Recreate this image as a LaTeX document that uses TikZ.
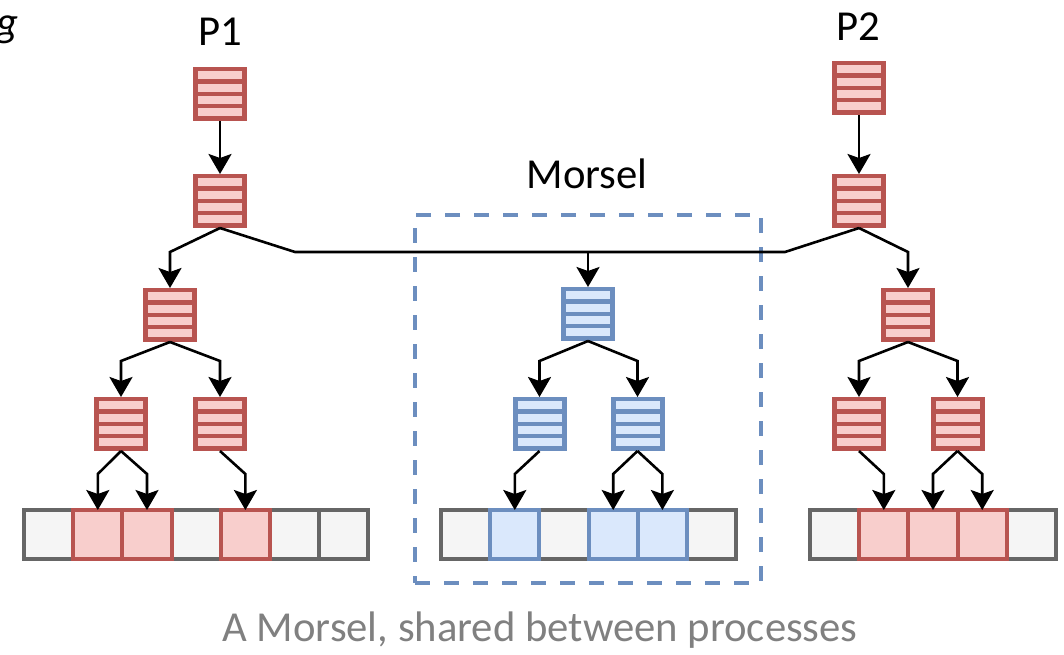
\documentclass[tikz,border=0pt]{standalone}
\usepackage{fontspec}
\setmainfont{Carlito}
\usetikzlibrary{arrows.meta,positioning}

\definecolor{redline}{HTML}{B85450}
\definecolor{redfill}{HTML}{F8CECC}
\definecolor{blueline}{HTML}{6C8EBF}
\definecolor{bluefill}{HTML}{DAE8FC}
\definecolor{cellline}{HTML}{666666}
\definecolor{cellfill}{HTML}{F5F5F5}
\definecolor{captgray}{HTML}{808080}

\tikzset{
  queue/.style 2 args={fill=#1, minimum size=54pt, inner sep=0pt, outer sep=0pt,
    path picture={
      \foreach \k in {0,...,3}
        \fill[#2] ([xshift=5pt,yshift={-(4.3+12.3*\k)*1pt}]path picture bounding box.north west)
          rectangle ++(44pt,-8pt);
    }},
  redq/.style={queue={redline}{redfill}},
  blueq/.style={queue={blueline}{bluefill}},
  cell/.style={draw=cellline, fill=cellfill, line width=4pt, minimum width=49.2pt,
    minimum height=49pt, inner sep=0pt, outer sep=0pt},
  redcell/.style={cell, draw=redline, fill=redfill},
  bluecell/.style={cell, draw=blueline, fill=bluefill},
  arr/.style={-{Stealth[length=20pt,width=23pt,inset=4pt]}, line width=2.6pt},
  link/.style={line width=2.6pt},
  lbl/.style={font=\fontsize{42.7}{50}\selectfont, inner sep=0pt, anchor=base},
}

\begin{document}
\begin{tikzpicture}[x=1pt, y=-1pt]
  \useasboundingbox (0,0) rectangle (1064,654);

  \node[lbl, anchor=base east, font=\fontsize{42.7}{50}\selectfont\itshape] (cut) at (19,36) {g};
  \node[lbl] (p1name) at (220,45) {P1};
  \node[lbl] (p2name) at (858,40) {P2};
  \node[lbl] (mname) at (587,188) {Morsel};
  \node[lbl, text=captgray] (cap) at (540,641) {A Morsel, shared between processes};

  % morsel frame
  \node[draw=blueline, line width=3.5pt, dash pattern=on 15pt off 14pt,
    minimum width=346pt, minimum height=368pt, inner sep=0pt] (frame) at (588,399) {};

  % queues
  \node[redq] (p1q1) at (220,94) {};
  \node[redq] (p1q2) at (220,201) {};
  \node[redq] (p1q3) at (170,315) {};
  \node[redq] (p1q4) at (121,424) {};
  \node[redq] (p1q5) at (220,424) {};

  \node[blueq] (mq1) at (588,314) {};
  \node[blueq] (mq2) at (539.5,424) {};
  \node[blueq] (mq3) at (637.5,424) {};

  \node[redq] (p2q1) at (859,88) {};
  \node[redq] (p2q2) at (859,201) {};
  \node[redq] (p2q3) at (908,315) {};
  \node[redq] (p2q4) at (859,424) {};
  \node[redq] (p2q5) at (957.5,424) {};

  % arrays
  \node[cell, anchor=west] (p1c1) at (24,534.5) {};
  \foreach \i [evaluate=\i as \j using int(\i-1)] in {2,...,7}
    \node[cell, right=0pt of p1c\j] (p1c\i) {};
  \foreach \i in {2,3,5}
    \node[redcell] (p1h\i) at (p1c\i) {};

  \node[cell, anchor=west] (mc1) at (441,534.5) {};
  \foreach \i [evaluate=\i as \j using int(\i-1)] in {2,...,6}
    \node[cell, right=0pt of mc\j] (mc\i) {};
  \foreach \i in {2,4,5}
    \node[bluecell] (mh\i) at (mc\i) {};

  \node[cell, anchor=west] (p2c1) at (810,534.5) {};
  \foreach \i [evaluate=\i as \j using int(\i-1)] in {2,...,5}
    \node[cell, right=0pt of p2c\j] (p2c\i) {};
  \foreach \i in {2,3,4}
    \node[redcell] (p2h\i) at (p2c\i) {};

  % shared link
  \coordinate (jl) at (295,252);
  \coordinate (jm) at (588,252);
  \coordinate (jr) at (785,252);
  \draw[link] (p1q2.south) -- (jl) -- (jr) -- (p2q2.south);
  \draw[arr] (jm) -- (mq1.north);

  \foreach \s/\t in {p1q1/p1q2, p1q2/p1q3, p1q3/p1q4, p1q3/p1q5,
                     p1q4/p1h2, p1q4/p1h3, p1q5/p1h5,
                     mq1/mq2, mq1/mq3, mq2/mh2, mq3/mh4, mq3/mh5,
                     p2q1/p2q2, p2q2/p2q3, p2q3/p2q4, p2q3/p2q5,
                     p2q4/p2h2, p2q5/p2h3, p2q5/p2h4}
    \draw[arr] (\s.south) -- ([yshift=36pt]\t.north) -- (\t.north);
\end{tikzpicture}
\end{document}
